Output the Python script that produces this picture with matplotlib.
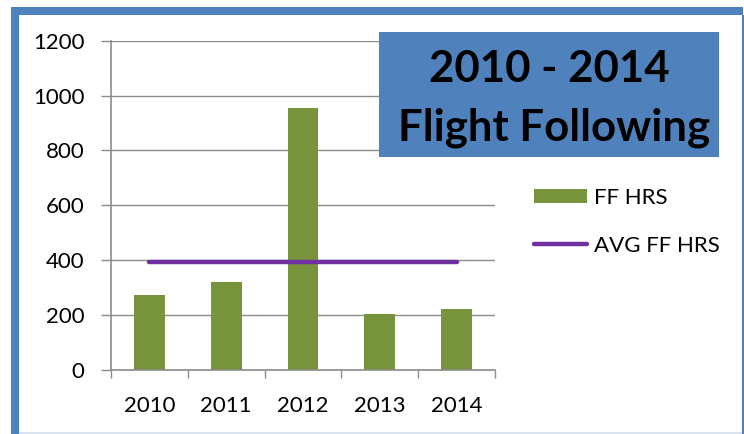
import matplotlib
matplotlib.use("Agg")
import matplotlib.pyplot as plt
from matplotlib.patches import Rectangle
from matplotlib.lines import Line2D
from matplotlib.patches import Patch

years = ["2010", "2011", "2012", "2013", "2014"]
ff_hrs = [273, 322, 954, 205, 222]
avg_ff_hrs = [395, 395, 395, 395, 395]
yticks = [0, 200, 400, 600, 800, 1000, 1200]
title_lines = ["2010 - 2014", "Flight Following"]

W, H = 744, 434
fig = plt.figure(figsize=(W / 100, H / 100), dpi=100)
fig.patch.set_facecolor("white")

FONT = "Lato"
FS = 16
blue = "#4F81BD"
green = "#77933C"
purple = "#7030A0"
grid = "#8C8C8C"

def fx(px):
    return px / W

def fy(py):
    return 1 - py / H

# frame border
fig.add_artist(Rectangle((fx(11), fy(434)), fx(8), fy(7) - fy(434), transform=fig.transFigure,
                         facecolor=blue, edgecolor="none"))
fig.add_artist(Rectangle((fx(11), fy(15)), fx(743 - 11), fy(7) - fy(15), transform=fig.transFigure,
                         facecolor=blue, edgecolor="none"))
fig.add_artist(Rectangle((fx(742), fy(434)), fx(2), fy(15) - fy(434), transform=fig.transFigure,
                         facecolor=blue, edgecolor="none"))
fig.add_artist(Rectangle((fx(19), fy(434)), fx(723), fy(432) - fy(434), transform=fig.transFigure,
                         facecolor="#D9E2EE", edgecolor="none"))

ax = fig.add_axes([fx(111), fy(370), fx(495 - 111), fy(40.6) - fy(370)])
x = list(range(len(years)))
ax.bar(x, ff_hrs, width=0.4, color=green, zorder=2)
ax.plot(x, avg_ff_hrs, color=purple, lw=3.2, solid_capstyle="round", zorder=3)

ax.set_xlim(-0.5, len(years) - 0.5)
ax.set_ylim(0, 1200)
ax.set_yticks(yticks)
ax.set_yticklabels([str(v) for v in yticks], fontsize=FS, family=FONT)
ax.set_xticks([i - 0.5 for i in range(len(years) + 1)], minor=False)
ax.set_xticklabels([])
ax.set_xticks(x, minor=True)
ax.set_xticklabels(years, minor=True, fontsize=FS, family=FONT)
ax.tick_params(axis="x", which="major", length=6, width=1, color=grid, direction="out")
ax.tick_params(axis="x", which="minor", length=0, pad=19)
ax.tick_params(axis="y", length=7, width=1, color=grid, direction="out", pad=12)
ax.yaxis.grid(True, color=grid, lw=1, zorder=0)
ax.set_axisbelow(True)
for s in ["top", "right"]:
    ax.spines[s].set_visible(False)
for s in ["left", "bottom"]:
    ax.spines[s].set_color(grid)
    ax.spines[s].set_linewidth(1.2)

# title box
fig.add_artist(Rectangle((fx(379), fy(157)), fx(719 - 379), fy(32) - fy(157), transform=fig.transFigure,
                         facecolor=blue, edgecolor="none"))
fig.text(fx(549), fy(82), title_lines[0], ha="center", va="baseline", fontsize=31.5,
         fontweight="bold", family=FONT, color="black")
fig.text(fx(554), fy(140), title_lines[1], ha="center", va="baseline", fontsize=31.5,
         fontweight="bold", family=FONT, color="black")

# legend
handles = [Patch(facecolor=green, edgecolor="none"),
           Line2D([0], [0], color=purple, lw=3.2, solid_capstyle="round")]
leg = fig.legend(handles, ["FF HRS", "AVG FF HRS"], loc="upper left",
                 bbox_to_anchor=(fx(534), fy(188)), frameon=False,
                 prop={"family": FONT, "size": FS}, handlelength=2.4,
                 handleheight=0.6, handletextpad=0.3, labelspacing=1.25, borderpad=0,
                 borderaxespad=0)

fig.savefig("out.png", dpi=100)
